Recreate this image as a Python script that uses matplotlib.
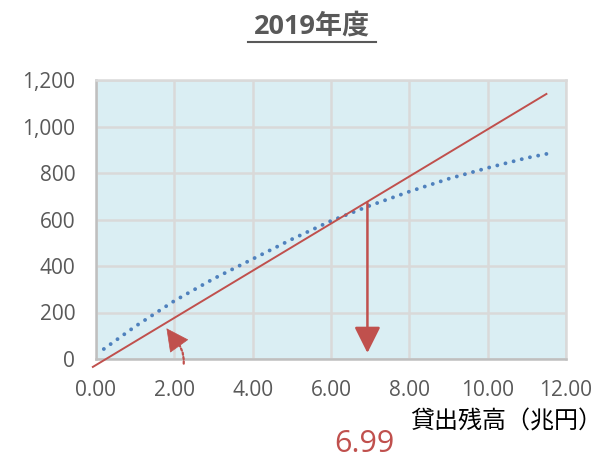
import matplotlib.pyplot as plt

plt.rcParams['font.family'] = ['Open Sans', 'Noto Sans CJK JP', 'DejaVu Sans']

# values
curve_x = [0.2, 1, 2, 3, 4, 5, 6, 7, 8, 9, 10, 11, 11.5]
curve_y = [43, 140, 250, 345, 430, 515, 594, 660, 720, 775, 822, 865, 882]
line_x = [-0.08, 11.5]
line_y = [-34, 1140]
balance = 6.99
balance_y = 671

xticks = [0, 2, 4, 6, 8, 10, 12]
yticks = [0, 200, 400, 600, 800, 1000, 1200]

red = '#C0504D'
blue = '#4F81BD'
grey = '#595959'

fig = plt.figure(figsize=(6.08, 4.59), dpi=100)
ax = fig.add_axes([96 / 608, 1 - 359 / 459, 470 / 608, 279 / 459])
ax.set_facecolor('#DAEEF3')

ax.plot(curve_x, curve_y, color=blue, lw=2.8, dashes=(0.01, 2.15),
        dash_capstyle='round', zorder=3)
ax.plot(line_x, line_y, color=red, lw=1.4, clip_on=False, zorder=4)

# arrow down from the crossing to the axis
ax.annotate('', xy=(balance - 0.06, 26), xytext=(balance - 0.06, balance_y),
            arrowprops=dict(arrowstyle='-|>,head_length=0.8,head_width=0.4',
                            mutation_scale=20, color=red, lw=1.8,
                            shrinkA=0, shrinkB=0), zorder=5)
# small dotted curved arrow: dotted tail + solid head
ax.annotate('', xy=(1.95, 95), xytext=(2.24, -20),
            arrowprops=dict(arrowstyle='-', color=red, lw=1.6, ls=(0, (1, 1)),
                            connectionstyle='arc3,rad=0.25',
                            shrinkA=0, shrinkB=0),
            annotation_clip=False, zorder=5)
ax.annotate('', xy=(1.8, 132), xytext=(1.97, 92),
            arrowprops=dict(arrowstyle='-|>,head_length=0.75,head_width=0.38',
                            mutation_scale=20, color=red, lw=0.5,
                            shrinkA=0, shrinkB=0), zorder=5)

ax.set_xlim(0, 12)
ax.set_ylim(0, 1200)
ax.set_xticks(xticks)
ax.set_yticks(yticks)
ax.set_xticklabels(['%.2f' % v for v in xticks])
ax.set_yticklabels(['{:,}'.format(v) for v in yticks])
ax.tick_params(length=0, labelsize=15, labelcolor=grey, pad=15)
ax.grid(True, color='#D9D9D9', lw=1.8)
ax.set_axisbelow(True)
for side in ['left', 'bottom']:
    ax.spines[side].set_color('#BFBFBF')
    ax.spines[side].set_linewidth(1.8)
for side in ['top', 'right']:
    ax.spines[side].set_color('#D9D9D9')
    ax.spines[side].set_linewidth(1.8)

fig.text(312 / 608, 1 - 27 / 459, '2019年度', ha='center', va='center',
         fontsize=19.5, fontweight='bold', color=grey)
fig.add_artist(plt.Line2D([248 / 608, 376 / 608], [1 - 42 / 459, 1 - 42 / 459],
                          color=grey, lw=1.5))
fig.text(410 / 608, 1 - 423 / 459, '貸出残高（兆円）', ha='left', va='center',
         fontsize=17.3, color='black')
fig.text(364 / 608, 1 - 444 / 459, '%.2f' % balance, ha='center', va='center',
         fontsize=22, color=red)

fig.savefig('out.png', dpi=100)
